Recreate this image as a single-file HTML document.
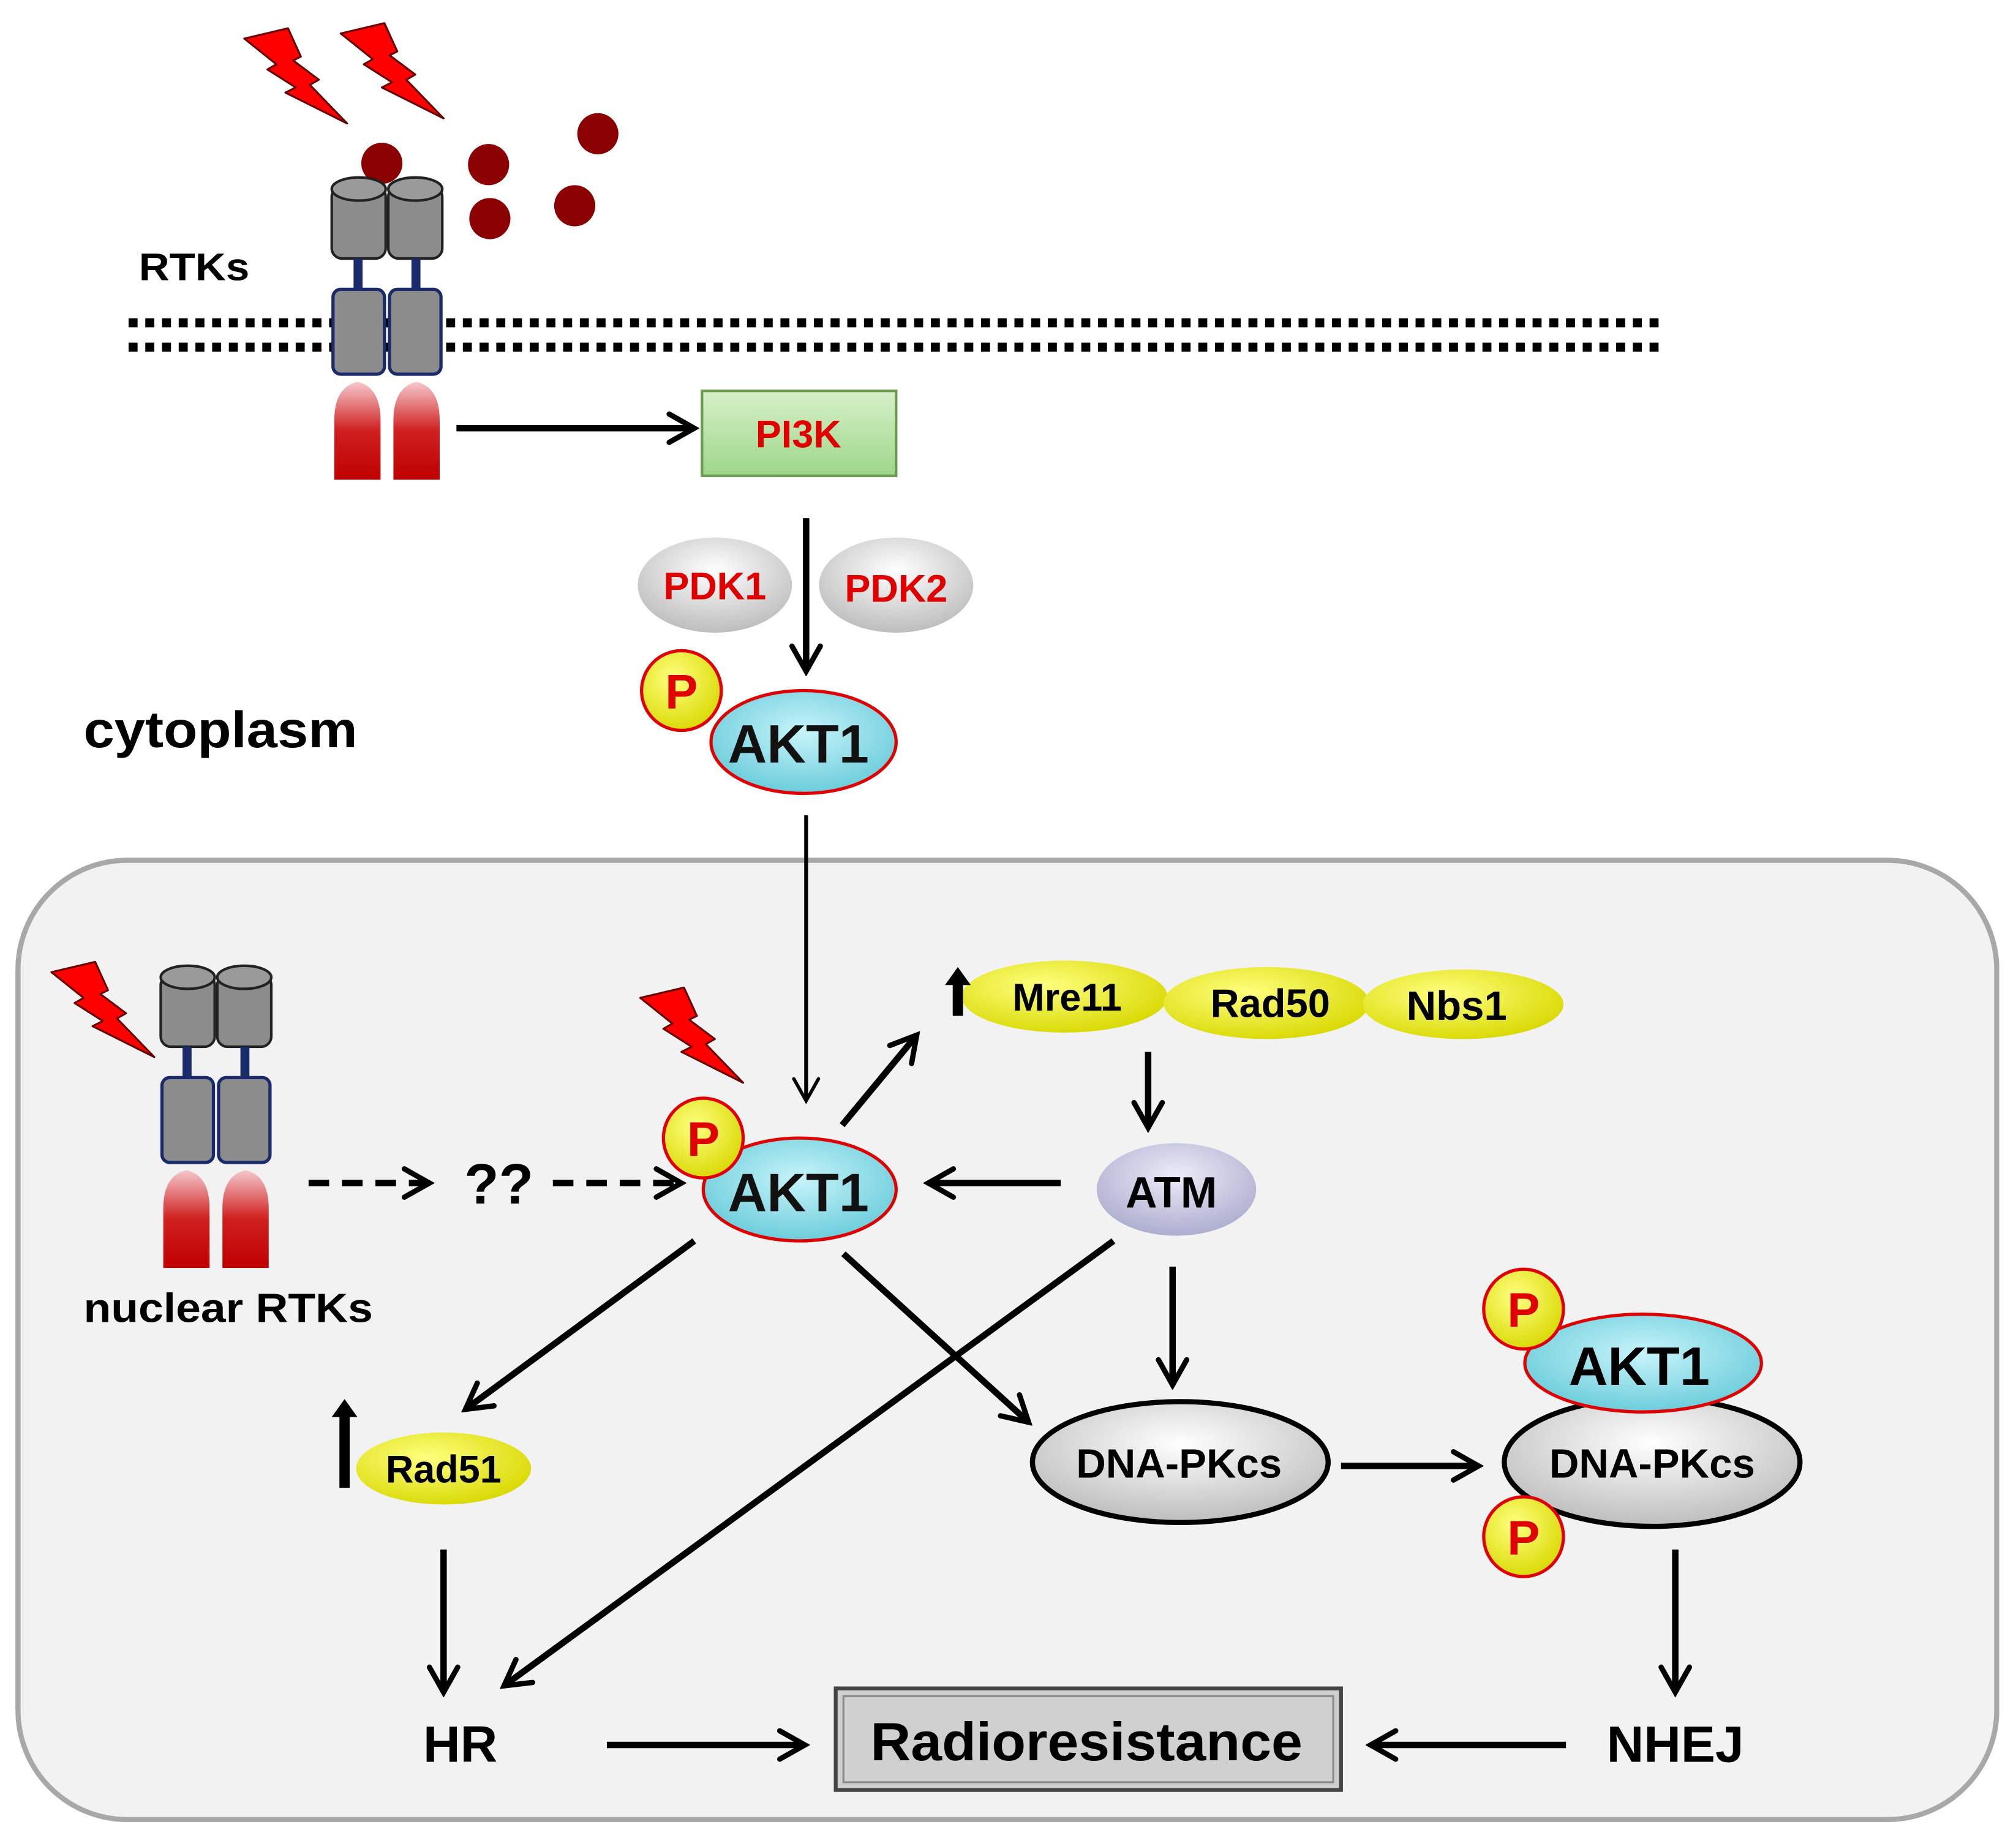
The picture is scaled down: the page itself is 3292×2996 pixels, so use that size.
<!DOCTYPE html>
<html><head><meta charset="utf-8"><style>
html,body{margin:0;padding:0;background:#fff}
svg{display:block}
text{font-family:"Liberation Sans",Arial,sans-serif;font-weight:bold}
</style></head><body>
<svg width="3292" height="2996" viewBox="0 0 1568 1427" xmlns="http://www.w3.org/2000/svg">
<defs>
<marker id="ah" viewBox="0 0 10 10" refX="8.6" refY="5" markerWidth="5.5" markerHeight="5.5" orient="auto" markerUnits="strokeWidth">
<path d="M1.5,1 L8.6,5 L1.5,9" fill="none" stroke="#000" stroke-width="1.5" stroke-linecap="round" stroke-linejoin="miter"/>
</marker>
<marker id="ahs" viewBox="0 0 10 10" refX="8.6" refY="5" markerWidth="8" markerHeight="8" orient="auto" markerUnits="strokeWidth">
<path d="M1.5,1 L8.6,5 L1.5,9" fill="none" stroke="#000" stroke-width="1.1" stroke-linecap="round"/>
</marker>
<linearGradient id="green" x1="0" y1="0" x2="0" y2="1"><stop offset="0" stop-color="#d6f0c8"/><stop offset="1" stop-color="#9ed68a"/></linearGradient>
<radialGradient id="gray" cx="0.5" cy="0.35" r="0.7"><stop offset="0" stop-color="#ffffff"/><stop offset="1" stop-color="#b8b8b8"/></radialGradient>
<radialGradient id="cyan" cx="0.5" cy="0.4" r="0.7"><stop offset="0" stop-color="#c8f4fa"/><stop offset="1" stop-color="#5cc6d6"/></radialGradient>
<radialGradient id="yel" cx="0.4" cy="0.35" r="0.7"><stop offset="0" stop-color="#ffff80"/><stop offset="1" stop-color="#d8d800"/></radialGradient>
<radialGradient id="lav" cx="0.5" cy="0.35" r="0.7"><stop offset="0" stop-color="#ececf8"/><stop offset="1" stop-color="#a8a8cc"/></radialGradient>
<linearGradient id="redb" x1="0" y1="0" x2="0" y2="1"><stop offset="0" stop-color="#f5c8cc"/><stop offset="0.5" stop-color="#d02020"/><stop offset="1" stop-color="#c00000"/></linearGradient>
<g id="bolt"><polygon points="0,8 34,0 44,22 38,25 58,40 51,44 80,74 32,50 40,46 18,32 25,28" fill="#ff0000" stroke="#600" stroke-width="1.5" stroke-linejoin="round"/></g>
<g id="rtk">
<rect x="0" y="8" width="42" height="56" rx="8" fill="#8c8c8c" stroke="#222" stroke-width="2"/>
<ellipse cx="21" cy="10" rx="21" ry="9" fill="#9a9a9a" stroke="#222" stroke-width="2"/>
<rect x="44" y="8" width="42" height="56" rx="8" fill="#8c8c8c" stroke="#222" stroke-width="2"/>
<ellipse cx="65" cy="10" rx="21" ry="9" fill="#9a9a9a" stroke="#222" stroke-width="2"/>
<rect x="17" y="64" width="7" height="26" fill="#1a2a6a"/>
<rect x="62" y="64" width="7" height="26" fill="#1a2a6a"/>
<rect x="1" y="88" width="40" height="66" rx="6" fill="#8c8c8c" stroke="#1a2a6a" stroke-width="2.5"/>
<rect x="45" y="88" width="40" height="66" rx="6" fill="#8c8c8c" stroke="#1a2a6a" stroke-width="2.5"/>
<path d="M2,236 L2,190 Q2,164 20,160 Q38,164 38,190 L38,236 Z" fill="url(#redb)"/>
<path d="M48,236 L48,190 Q48,164 66,160 Q84,164 84,190 L84,236 Z" fill="url(#redb)"/>
</g>
</defs>

<rect x="14" y="669" width="1539" height="746" rx="85" fill="#f2f2f2" stroke="#a8a8a8" stroke-width="4"/>

<use href="#bolt" transform="translate(190,22)"/>
<use href="#bolt" transform="translate(265,18)"/>
<g fill="#8b0000"><circle cx="297" cy="127" r="16"/><circle cx="380" cy="128" r="16"/><circle cx="381" cy="170" r="16"/><circle cx="447" cy="160" r="16"/><circle cx="465" cy="104" r="16"/></g>

<line x1="100" y1="251" x2="1292" y2="251" stroke="#000" stroke-width="7" stroke-dasharray="7,6"/>
<line x1="100" y1="270" x2="1292" y2="270" stroke="#000" stroke-width="7" stroke-dasharray="7,6"/>
<use href="#rtk" transform="translate(258,137)"/>
<text x="108" y="218" font-size="30" textLength="86" lengthAdjust="spacingAndGlyphs">RTKs</text>

<line x1="355" y1="333" x2="540" y2="333" stroke="#000" stroke-width="5" marker-end="url(#ah)"/>
<rect x="546" y="304" width="151" height="66" fill="url(#green)" stroke="#6a9a50" stroke-width="2"/>
<text x="621" y="348" font-size="30" fill="#e00000" text-anchor="middle">PI3K</text>

<ellipse cx="556" cy="455" rx="60" ry="37" fill="url(#gray)"/>
<text x="556" y="466" font-size="30" fill="#e00000" text-anchor="middle">PDK1</text>
<ellipse cx="697" cy="455" rx="60" ry="37" fill="url(#gray)"/>
<text x="697" y="468" font-size="30" fill="#e00000" text-anchor="middle">PDK2</text>
<line x1="627" y1="403" x2="627" y2="522" stroke="#000" stroke-width="5" marker-end="url(#ah)"/>

<ellipse cx="625" cy="577" rx="72" ry="40" fill="url(#cyan)" stroke="#e00000" stroke-width="2.5"/>
<circle cx="530" cy="537" r="31" fill="url(#yel)" stroke="#e00000" stroke-width="2.5"/>
<text x="530" y="551" font-size="38" fill="#e00000" text-anchor="middle">P</text>
<text x="621" y="593" font-size="42" fill="#111" text-anchor="middle">AKT1</text>
<text x="65" y="581" font-size="40" textLength="213" lengthAdjust="spacingAndGlyphs">cytoplasm</text>

<line x1="627" y1="634" x2="627" y2="856" stroke="#000" stroke-width="3" marker-end="url(#ahs)"/>

<use href="#bolt" transform="translate(40,748)"/>
<use href="#rtk" transform="translate(125,750)"/>
<text x="65" y="1028" font-size="32" textLength="225" lengthAdjust="spacingAndGlyphs">nuclear RTKs</text>
<line x1="240" y1="920" x2="334" y2="920" stroke="#000" stroke-width="5" stroke-dasharray="16,10" marker-end="url(#ah)"/>
<text x="388" y="936" font-size="44" font-weight="normal" text-anchor="middle">??</text>
<line x1="430" y1="920" x2="530" y2="920" stroke="#000" stroke-width="5" stroke-dasharray="16,10" marker-end="url(#ah)"/>
<use href="#bolt" transform="translate(498,768)"/>

<ellipse cx="622" cy="925" rx="75" ry="40" fill="url(#cyan)" stroke="#e00000" stroke-width="2.5"/>
<circle cx="547" cy="885" r="31" fill="url(#yel)" stroke="#e00000" stroke-width="2.5"/>
<text x="547" y="899" font-size="38" fill="#e00000" text-anchor="middle">P</text>
<text x="621" y="942" font-size="42" fill="#111" text-anchor="middle">AKT1</text>

<line x1="655" y1="875" x2="713" y2="805" stroke="#000" stroke-width="5" marker-end="url(#ah)"/>

<ellipse cx="828" cy="775" rx="80" ry="28" fill="url(#yel)"/>
<ellipse cx="985" cy="780" rx="80" ry="28" fill="url(#yel)"/>
<ellipse cx="1138" cy="781" rx="78" ry="27" fill="url(#yel)"/>
<text x="830" y="786" font-size="30" text-anchor="middle">Mre11</text>
<text x="988" y="791" font-size="31" text-anchor="middle">Rad50</text>
<text x="1133" y="793" font-size="32" text-anchor="middle">Nbs1</text>
<polygon points="745,752 755,766 749,766 749,790 741,790 741,766 735,766" fill="#000"/>

<line x1="893" y1="818" x2="893" y2="877" stroke="#000" stroke-width="5" marker-end="url(#ah)"/>
<ellipse cx="915" cy="925" rx="62" ry="36" fill="url(#lav)"/>
<text x="911" y="939" font-size="34" text-anchor="middle">ATM</text>
<line x1="825" y1="920" x2="722" y2="920" stroke="#000" stroke-width="5" marker-end="url(#ah)"/>
<line x1="912" y1="985" x2="912" y2="1077" stroke="#000" stroke-width="5" marker-end="url(#ah)"/>
<line x1="866" y1="965" x2="392" y2="1311" stroke="#000" stroke-width="5" marker-end="url(#ah)"/>
<line x1="540" y1="965" x2="362" y2="1096" stroke="#000" stroke-width="5" marker-end="url(#ah)"/>
<line x1="656" y1="975" x2="800" y2="1106" stroke="#000" stroke-width="5" marker-end="url(#ah)"/>

<ellipse cx="345" cy="1142" rx="68" ry="28" fill="url(#yel)"/>
<text x="345" y="1153" font-size="30" text-anchor="middle">Rad51</text>
<polygon points="268,1088 278,1102 272,1102 272,1157 264,1157 264,1102 258,1102" fill="#000"/>

<ellipse cx="918" cy="1137" rx="115" ry="47" fill="url(#gray)" stroke="#000" stroke-width="4"/>
<text x="917" y="1149" font-size="32" text-anchor="middle">DNA-PKcs</text>
<line x1="1043" y1="1140" x2="1150" y2="1140" stroke="#000" stroke-width="5" marker-end="url(#ah)"/>
<ellipse cx="1285" cy="1137" rx="115" ry="50" fill="url(#gray)" stroke="#000" stroke-width="4"/>
<text x="1285" y="1149" font-size="32" text-anchor="middle">DNA-PKcs</text>
<ellipse cx="1278" cy="1060" rx="92" ry="38" fill="url(#cyan)" stroke="#e00000" stroke-width="2.5"/>
<text x="1275" y="1077" font-size="42" text-anchor="middle">AKT1</text>
<circle cx="1185" cy="1018" r="31" fill="url(#yel)" stroke="#e00000" stroke-width="2.5"/>
<text x="1185" y="1032" font-size="38" fill="#e00000" text-anchor="middle">P</text>
<circle cx="1185" cy="1195" r="31" fill="url(#yel)" stroke="#e00000" stroke-width="2.5"/>
<text x="1185" y="1209" font-size="38" fill="#e00000" text-anchor="middle">P</text>

<line x1="1303" y1="1205" x2="1303" y2="1316" stroke="#000" stroke-width="5" marker-end="url(#ah)"/>
<line x1="345" y1="1205" x2="345" y2="1316" stroke="#000" stroke-width="5" marker-end="url(#ah)"/>

<text x="358" y="1370" font-size="40" text-anchor="middle">HR</text>
<line x1="472" y1="1357" x2="626" y2="1357" stroke="#000" stroke-width="5" marker-end="url(#ah)"/>
<rect x="650" y="1313" width="393" height="79" fill="#d0d0d0" stroke="#444" stroke-width="3"/>
<rect x="656" y="1319" width="381" height="67" fill="none" stroke="#888" stroke-width="1.5"/>
<text x="677" y="1369" font-size="42" textLength="336" lengthAdjust="spacingAndGlyphs">Radioresistance</text>
<line x1="1218" y1="1357" x2="1066" y2="1357" stroke="#000" stroke-width="5" marker-end="url(#ah)"/>
<text x="1303" y="1370" font-size="40" text-anchor="middle">NHEJ</text>
</svg>
</body></html>
